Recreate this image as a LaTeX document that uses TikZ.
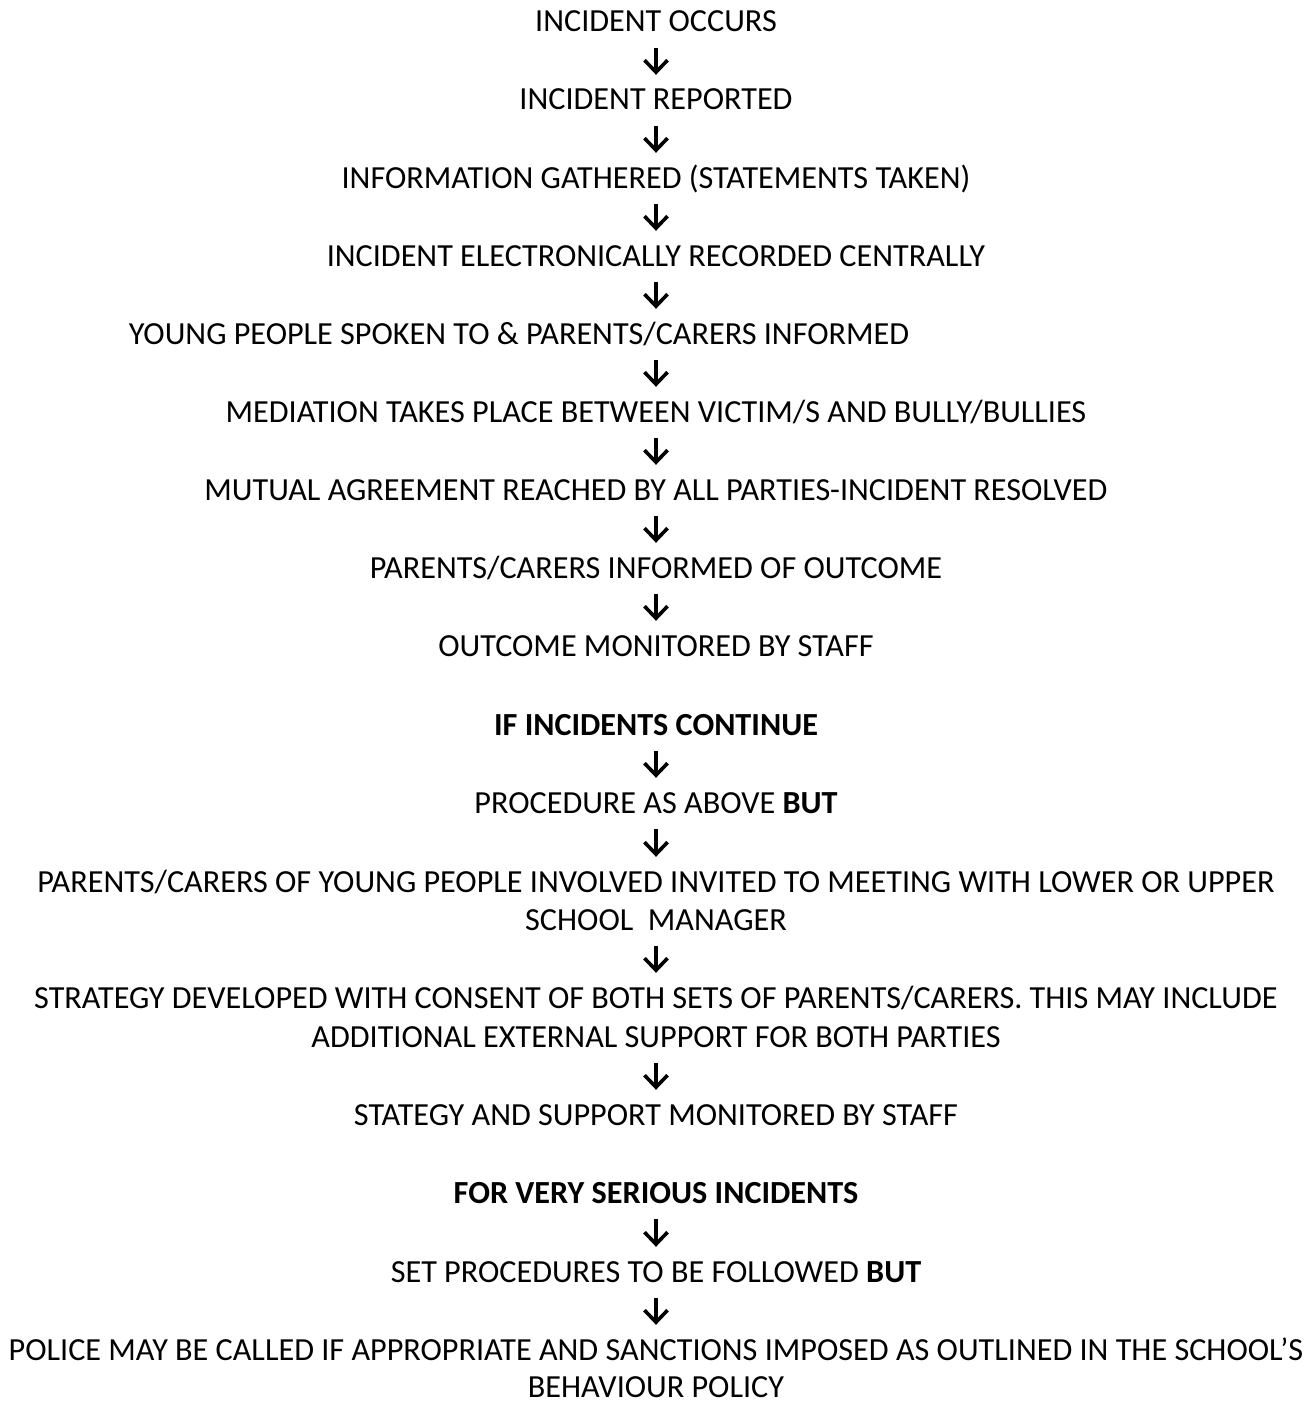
\documentclass[tikz,border=0pt]{standalone}
\usepackage{fontspec}
\setmainfont{Carlito}
\usetikzlibrary{arrows.meta}
\begin{document}
\begin{tikzpicture}[x=1pt,y=-1pt,
  txt/.style={anchor=base,inner sep=0pt,text height=20pt,text depth=0pt,
    font=\fontsize{32.2}{39}\selectfont},
  flow/.style={line width=3.6pt,-{Straight Barb[length=12pt,width=23pt,line width=3.6pt]},
    shorten <=16pt,shorten >=15pt}]
\useasboundingbox (0,0) rectangle (1314,1402);
\coordinate (ax) at (656,0);
\node[txt] (n1) at (656,32) {INCIDENT OCCURS};
\node[txt] (n2) at (656,110) {INCIDENT REPORTED};
\node[txt] (n3) at (656,188) {INFORMATION GATHERED (STATEMENTS TAKEN)};
\node[txt] (n4) at (656,266) {INCIDENT ELECTRONICALLY RECORDED CENTRALLY};
\node[txt] (n5) at (519,344) {YOUNG PEOPLE SPOKEN TO \& PARENTS/CARERS INFORMED};
\node[txt] (n6) at (656,422) {MEDIATION TAKES PLACE BETWEEN VICTIM/S AND BULLY/BULLIES};
\node[txt] (n7) at (656,500) {MUTUAL AGREEMENT REACHED BY ALL PARTIES-INCIDENT RESOLVED};
\node[txt] (n8) at (656,578) {PARENTS/CARERS INFORMED OF OUTCOME};
\node[txt] (n9) at (656,656) {OUTCOME MONITORED BY STAFF};
\node[txt] (n10) at (656,735) {\bfseries IF INCIDENTS CONTINUE};
\node[txt] (n11) at (656,813) {PROCEDURE AS ABOVE \textbf{BUT}};
\node[txt] (n12a) at (656,892) {PARENTS/CARERS OF YOUNG PEOPLE INVOLVED INVITED TO MEETING WITH LOWER OR UPPER};
\node[txt] (n12b) at (656,930) {SCHOOL\ \ MANAGER};
\node[txt] (n13a) at (656,1008) {STRATEGY DEVELOPED WITH CONSENT OF BOTH SETS OF PARENTS/CARERS. THIS MAY INCLUDE};
\node[txt] (n13b) at (656,1047) {ADDITIONAL EXTERNAL SUPPORT FOR BOTH PARTIES};
\node[txt] (n14) at (656,1125) {STATEGY AND SUPPORT MONITORED BY STAFF};
\node[txt] (n15) at (656,1203) {\bfseries FOR VERY SERIOUS INCIDENTS};
\node[txt] (n16) at (656,1282) {SET PROCEDURES TO BE FOLLOWED \textbf{BUT}};
\node[txt] (n17a) at (656,1360) {POLICE MAY BE CALLED IF APPROPRIATE AND SANCTIONS IMPOSED AS OUTLINED IN THE SCHOOL’S};
\node[txt] (n17b) at (656,1397) {BEHAVIOUR POLICY};
\foreach \a/\b in {n1/n2,n2/n3,n3/n4,n4/n5,n5/n6,n6/n7,n7/n8,n8/n9,n10/n11,n11/n12a,n12b/n13a,n13b/n14,n15/n16,n16/n17a}
  \draw[flow] (\a.south -| ax) -- (\b.north -| ax);
\end{tikzpicture}
\end{document}
